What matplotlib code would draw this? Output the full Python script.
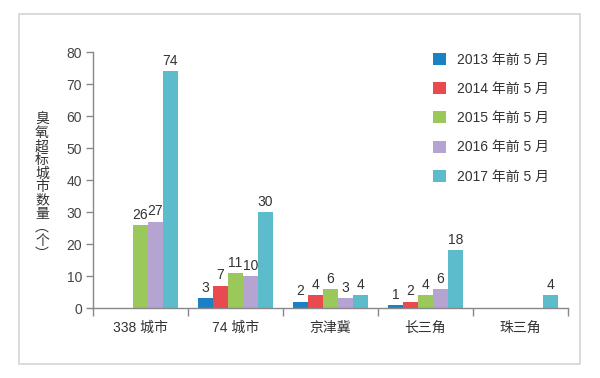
import numpy as np
import matplotlib
matplotlib.use("Agg")
import matplotlib.pyplot as plt
from matplotlib.patches import Rectangle

plt.rcParams['font.family'] = ['Liberation Sans', 'Noto Sans CJK SC', 'DejaVu Sans']

categories = ["338 城市", "74 城市", "京津冀", "长三角", "珠三角"]
series_names = ["2013 年前 5 月", "2014 年前 5 月", "2015 年前 5 月", "2016 年前 5 月", "2017 年前 5 月"]
v2013 = [np.nan, 3, 2, 1, np.nan]
v2014 = [np.nan, 7, 4, 2, np.nan]
v2015 = [26, 11, 6, 4, np.nan]
v2016 = [27, 10, 3, 6, np.nan]
v2017 = [74, 30, 4, 18, 4]
colors = ["#1a82c4", "#e84a4f", "#9bc85a", "#b5a3d1", "#5cbccc"]
yticks = [0, 10, 20, 30, 40, 50, 60, 70, 80]
ylabel = "臭氧超标城市数量︵个︶"

series = [v2013, v2014, v2015, v2016, v2017]

fig = plt.figure(figsize=(6, 3.78), dpi=100)
ax = fig.add_axes([93/600, 1-308/378, (568-93)/600, (308-52)/378])

# outer frame
fig.patches.append(Rectangle((19/600, 1-364/378), (580-19)/600, (364-14)/378,
                             transform=fig.transFigure, fill=False,
                             edgecolor="#d4d4d4", linewidth=1.2))

x = np.arange(len(categories))
w = 0.157
txtc = "#333333"
for i, (vals, c, name) in enumerate(zip(series, colors, series_names)):
    pos = x + (i - 2) * w
    ax.bar(pos, vals, width=w, color=c, label=name)
    for p, v in zip(pos, vals):
        if not np.isnan(v):
            ax.text(p, v + 1.0, f"{int(v)}", ha="center", va="bottom",
                    fontsize=10, color=txtc)

ax.set_xlim(-0.5, 4.5)
ax.set_ylim(0, 80)
ax.set_yticks(yticks)
ax.set_xticks(x)
ax.set_xticklabels(categories)
ax.set_xticks(np.arange(-0.5, 5.0, 1.0), minor=True)
ax.tick_params(axis='x', which='major', length=0, pad=9, labelsize=10, labelcolor=txtc)
ax.tick_params(axis='x', which='minor', length=6, width=1, color="#888888", direction='out')
ax.tick_params(axis='y', length=5, width=1, color="#888888", pad=3, labelsize=10, labelcolor="#444444")

for s in ["top", "right"]:
    ax.spines[s].set_visible(False)
for s in ["left", "bottom"]:
    ax.spines[s].set_color("#888888")
    ax.spines[s].set_linewidth(1)

fig.text(42/600, 1-187/378, "\n".join(ylabel), ha="center", va="center",
         fontsize=10, color=txtc, linespacing=0.95)

fig.legend(loc="upper left", bbox_to_anchor=(420/600, 1-40/378),
           frameon=False, fontsize=10, handlelength=0.95, handleheight=0.95,
           labelspacing=1.1, handletextpad=0.8, labelcolor=txtc)

fig.savefig("out.png", dpi=100)
